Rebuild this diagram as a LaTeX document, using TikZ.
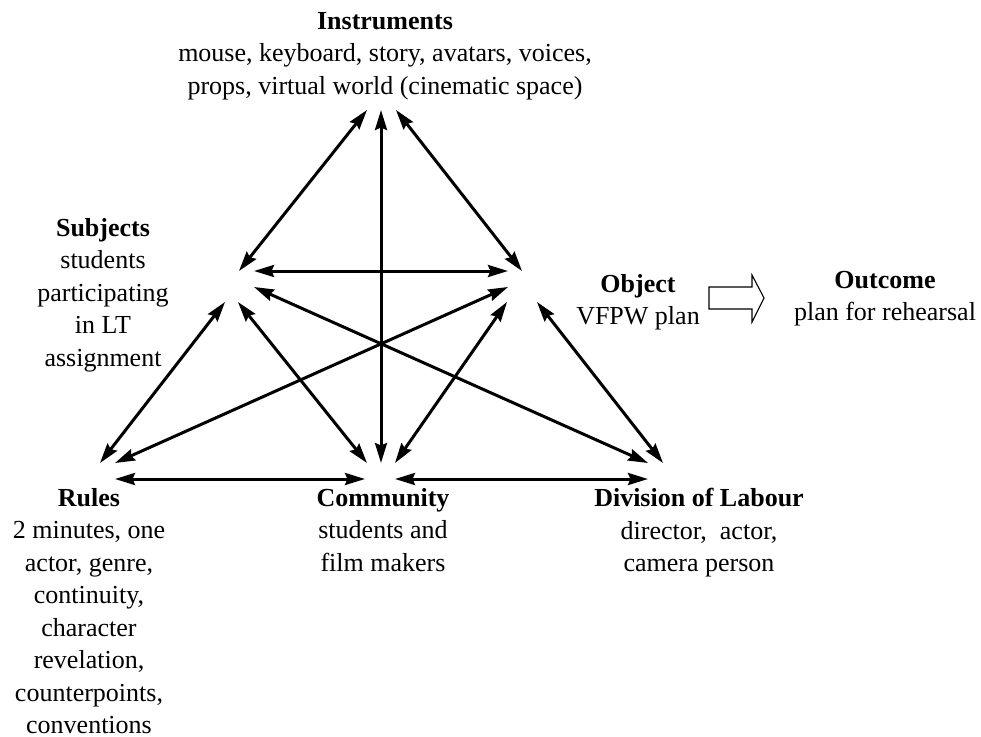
\documentclass[tikz,border=0pt]{standalone}
\usepackage{fontspec}
\setmainfont{Liberation Serif}
\usetikzlibrary{arrows.meta}
\begin{document}
\begin{tikzpicture}[x=1pt,y=-1pt,
  lbl/.style={align=center,inner sep=0pt,anchor=north,font=\fontsize{26}{32.5}\selectfont},
  tip/.style={},
  link/.style={line width=3pt,{Stealth[length=20pt,width=12pt,inset=2.5pt]}-{Stealth[length=20pt,width=12pt,inset=2.5pt]}},
  bigarrow/.style={draw,line width=1.1pt,line join=miter}]
\useasboundingbox (0,0) rectangle (981,736);

% labels
\node[lbl] (instr) at (385,12) {\textbf{Instruments}\\mouse, keyboard, story, avatars, voices,\\props, virtual world (cinematic space)};
\node[lbl] (subj) at (103,218) {\textbf{Subjects}\\students\\participating\\in LT\\assignment};
\node[lbl] (obj) at (638,274) {\textbf{Object}\\VFPW plan};
\node[lbl] (outc) at (885,271) {\textbf{Outcome}\\plan for rehearsal};
\node[lbl] (rules) at (89,488) {\textbf{Rules}\\2 minutes, one\\actor, genre,\\continuity,\\character\\revelation,\\counterpoints,\\conventions};
\node[lbl] (comm) at (383,488) {\textbf{Community}\\students and\\film makers};
\node[lbl] (div) at (699,488) {\textbf{Division of Labour}\\director,\ \ actor,\\camera person};

% arrow end points
\coordinate (iS) at (367,110);
\coordinate (iC) at (381,110);
\coordinate (iO) at (396,110);
\coordinate (sI) at (239,271);
\coordinate (sO) at (254,271);
\coordinate (sD) at (254,287);
\coordinate (sR) at (225,302);
\coordinate (sC) at (238,302);
\coordinate (oI) at (522,271);
\coordinate (oS) at (508,271);
\coordinate (oR) at (508,287);
\coordinate (oC) at (507,302);
\coordinate (oD) at (537,302);
\coordinate (rS) at (100,463);
\coordinate (rO) at (115,463);
\coordinate (rC) at (115,479);
\coordinate (cS) at (367,463);
\coordinate (cI) at (381,463);
\coordinate (cO) at (395,463);
\coordinate (cR) at (365,479);
\coordinate (cD) at (395,479);
\coordinate (dS) at (648,463);
\coordinate (dO) at (663,463);
\coordinate (dC) at (648,479);

% connectors
\draw[link] (iS) -- (sI);
\draw[link] (iC) -- (cI);
\draw[link] (iO) -- (oI);
\draw[link] (sO) -- (oS);
\draw[link] (sR) -- (rS);
\draw[link] (sC) -- (cS);
\draw[link] (sD) -- (dS);
\draw[link] (oR) -- (rO);
\draw[link] (oC) -- (cO);
\draw[link] (oD) -- (dO);
\draw[link] (rC) -- (cR);
\draw[link] (cD) -- (dC);

% object -> outcome arrow
\draw[bigarrow] (709,287) -- (752,287) -- (752,275) -- (764,298) -- (752,322) -- (752,309) -- (709,309) -- cycle;
\end{tikzpicture}
\end{document}
